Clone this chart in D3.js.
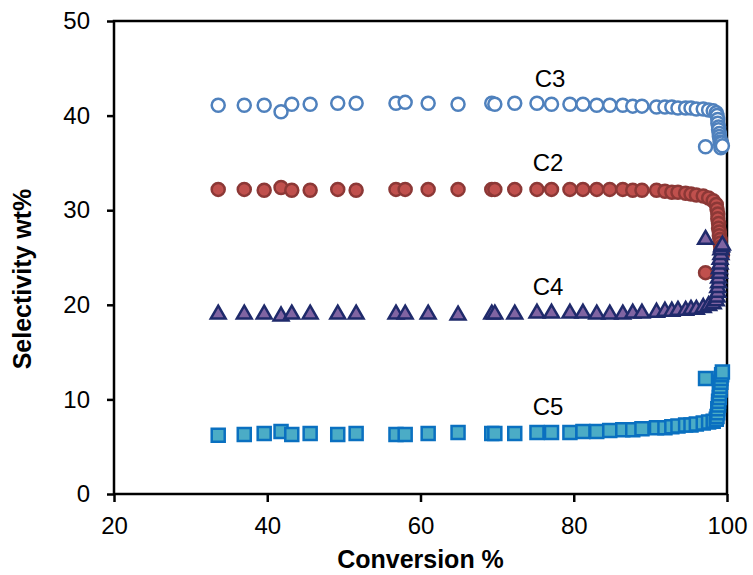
<!DOCTYPE html>
<html>
<head>
<meta charset="utf-8">
<script src="https://cdn.jsdelivr.net/npm/d3@7"></script>
<style>
    body { margin: 0; background: #fff; }
    svg text { font-family: "Liberation Sans", Arial, sans-serif; fill: #000; }
</style>
</head>
<body>
<svg id="chart" width="753" height="575"></svg>
<script>
// conversion % for every sample (shared by all four products)
const conversion = [
    33.6, 37.0, 39.6, 41.8, 43.2, 45.6, 49.2, 51.6, 56.8, 58.0,
    61.0, 64.9, 69.3, 69.7, 72.3, 75.2, 77.1, 79.5, 81.2, 83.0,
    84.7, 86.4, 87.7, 88.9, 90.8, 91.9, 92.8, 93.6, 94.6, 95.3,
    96.0, 96.9, 97.6, 98.2, 98.6,
    97.2,
    98.7, 98.8, 98.8, 98.9, 98.9, 99.0, 99.0, 99.1, 99.1, 99.2, 99.2, 99.3, 99.4
];
const c3 = [
    41.1, 41.1, 41.1, 40.4, 41.2, 41.2, 41.3, 41.3, 41.3, 41.4,
    41.3, 41.2, 41.3, 41.2, 41.3, 41.3, 41.2, 41.2, 41.2, 41.1,
    41.1, 41.1, 41.0, 41.0, 40.9, 40.9, 40.9, 40.8, 40.8, 40.8,
    40.7, 40.7, 40.6, 40.5, 40.3,
    36.7,
    40.0, 39.6, 39.2, 38.8, 38.5, 38.1, 37.8, 37.5, 37.2, 36.9, 36.6, 37.1, 36.8
];
const c2 = [
    32.2, 32.2, 32.1, 32.4, 32.1, 32.1, 32.2, 32.1, 32.2, 32.2,
    32.2, 32.2, 32.2, 32.2, 32.2, 32.2, 32.2, 32.2, 32.2, 32.2,
    32.2, 32.2, 32.1, 32.1, 32.1, 32.0, 31.9, 31.9, 31.8, 31.7,
    31.6, 31.5, 31.3, 31.0, 30.6,
    23.4,
    30.1, 29.6, 29.1, 28.6, 28.1, 27.7, 27.3, 26.9, 26.5, 26.1, 25.8, 25.5, 25.3
];
const c4 = [
    19.0, 19.0, 19.0, 18.8, 19.0, 19.0, 19.0, 19.0, 19.0, 19.0,
    19.0, 18.9, 19.0, 19.0, 19.0, 19.1, 19.1, 19.1, 19.1, 19.0,
    19.0, 19.0, 19.1, 19.1, 19.2, 19.3, 19.3, 19.4, 19.4, 19.5,
    19.5, 19.7, 19.9, 20.1, 20.4,
    26.9,
    20.8, 21.3, 21.8, 22.3, 22.8, 23.3, 23.8, 24.3, 24.8, 25.3, 25.8, 26.1, 26.3
];
const c5 = [
    6.2, 6.3, 6.4, 6.6, 6.3, 6.4, 6.3, 6.4, 6.3, 6.3,
    6.4, 6.5, 6.4, 6.4, 6.4, 6.5, 6.5, 6.5, 6.6, 6.6,
    6.7, 6.8, 6.8, 6.9, 7.0, 7.0, 7.1, 7.2, 7.3, 7.3,
    7.4, 7.5, 7.6, 7.7, 7.9,
    12.2,
    8.2, 8.6, 9.0, 9.4, 9.8, 10.2, 10.6, 11.0, 11.4, 11.8, 12.2, 12.6, 12.9
];
const xTicks = [20, 40, 60, 80, 100];
const yTicks = [0, 10, 20, 30, 40, 50];

const series = [
    {name: "C3", values: c3, shape: "circle", fill: "#ffffff", stroke: "#4f81bd", label: [550, 41.1]},
    {name: "C2", values: c2, shape: "circle", fill: "#c0504d", stroke: "#8c3836", label: [548, 32.2]},
    {name: "C4", values: c4, shape: "triangle", fill: "#8064a2", stroke: "#1f2a6b", label: [548, 19.1]},
    {name: "C5", values: c5, shape: "square", fill: "#4bacc6", stroke: "#0a70c0", label: [548, 6.5]}
];

const svg = d3.select("#chart"),
    plotL = 114, plotR = 727, plotT = 21, plotB = 494;

const xScale = d3.scaleLinear().domain([20, 100]).range([plotL, plotR]);
const yScale = d3.scaleLinear().domain([0, 50]).range([plotB, plotT]);

// frame
svg.append("rect")
    .attr("x", plotL).attr("y", plotT)
    .attr("width", plotR - plotL).attr("height", plotB - plotT)
    .attr("fill", "none").attr("stroke", "#000").attr("stroke-width", 2.5);

const yAxis = svg.append("g")
    .attr("transform", `translate(${plotL},0)`)
    .call(d3.axisLeft(yScale).tickValues(yTicks).tickFormat(d3.format("d"))
        .tickSize(7).tickSizeOuter(0).tickPadding(17));

const xAxis = svg.append("g")
    .attr("transform", `translate(0,${plotB})`)
    .call(d3.axisBottom(xScale).tickValues(xTicks).tickFormat(d3.format("d"))
        .tickSize(8).tickSizeOuter(0).tickPadding(15));

[xAxis, yAxis].forEach(function(ax) {
    ax.select(".domain").remove();
    ax.selectAll(".tick line").attr("stroke", "#000").attr("stroke-width", 2.5);
    ax.selectAll(".tick text").style("font-size", "24px").attr("fill", "#000");
});

svg.append("text")
    .attr("x", (plotL + plotR) / 2).attr("y", 568)
    .attr("text-anchor", "middle")
    .style("font-size", "25px").style("font-weight", "bold")
    .text("Conversion %");

svg.append("text")
    .attr("transform", "translate(31,279) rotate(-90)")
    .attr("text-anchor", "middle")
    .style("font-size", "25px").style("font-weight", "bold")
    .text("Selectivity wt%");

const symbols = {
    circle: d3.symbol(d3.symbolCircle, Math.PI * 6.5 * 6.5),
    square: d3.symbol(d3.symbolSquare, 13 * 13),
    triangle: d3.symbol(d3.symbolTriangle, 95)
};

series.forEach(function(s) {
    svg.append("g").selectAll("path")
        .data(conversion.map((c, i) => [c, s.values[i]]))
        .enter().append("path")
        .attr("transform", d => `translate(${xScale(d[0])},${yScale(d[1])})`)
        .attr("d", symbols[s.shape]())
        .attr("fill", s.fill)
        .attr("stroke", s.stroke)
        .attr("stroke-width", 2.5);
});

// series labels
series.forEach(function(s) {
    svg.append("text")
        .attr("x", s.label[0])
        .attr("y", yScale(s.label[1]) - 18)
        .attr("text-anchor", "middle")
        .style("font-size", "24px")
        .text(s.name);
});
</script>
</body>
</html>
